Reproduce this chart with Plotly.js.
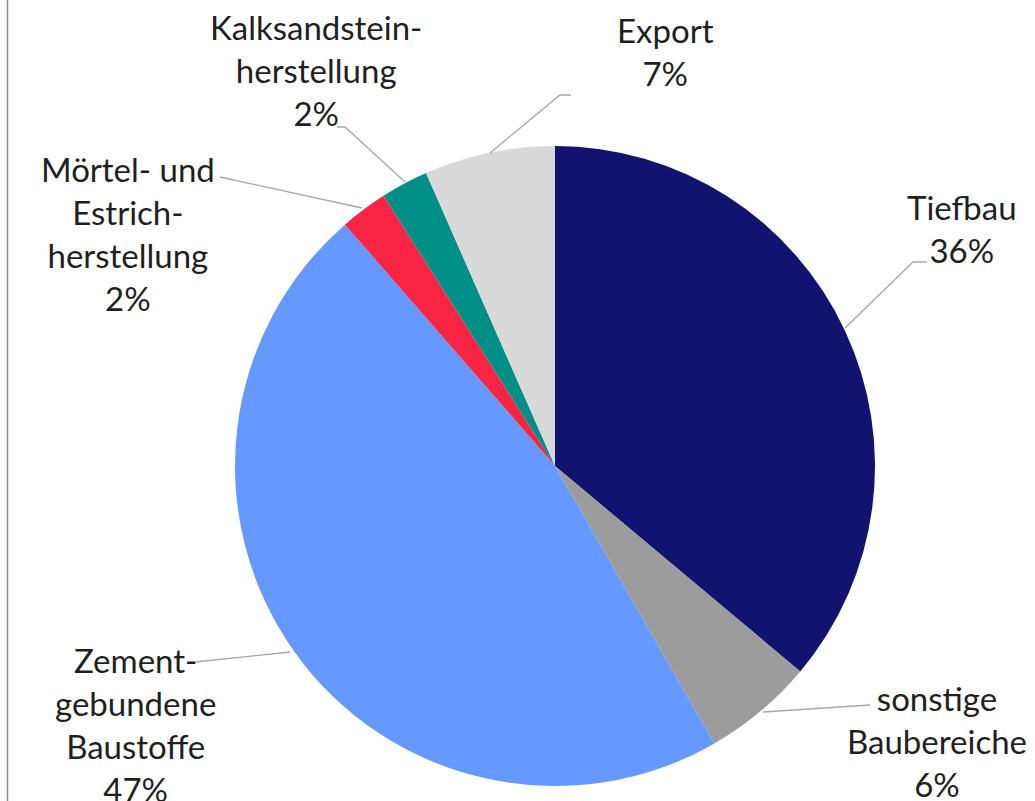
<!DOCTYPE html>
<html>
<head>
<meta charset="utf-8">
<script src="https://cdn.plot.ly/plotly-3.0.1.min.js"></script>
<style>
    html, body { margin: 0; padding: 0; background: #fff; }
    #chart { width: 1035px; height: 801px; }
</style>
</head>
<body>
<div id="chart"></div>
<script>
// Slices, clockwise from 12 o'clock
const labels = ["Tiefbau", "sonstige<br>Baubereiche", "Zement-<br>gebundene<br>Baustoffe",
                "Mörtel- und<br>Estrich-<br>herstellung", "Kalksandstein-<br>herstellung", "Export"];
const values = [36.1, 5.6, 46.9, 2.4, 2.4, 6.6];
const colors = ["#121270", "#9C9C9C", "#6699FF", "#FA2545", "#008F87", "#D9D9D9"];

// Label placement (pixel centre of text block) and leader lines (pixel polylines)
const label_pos = [[962, 228], [937, 741], [135, 724], [128, 233], [316, 70], [665, 51]];
const leaders = [
    [[845, 328], [913, 262], [927, 262]],
    [[763, 712], [870, 705]],
    [[290, 652], [195, 662]],
    [[362, 208], [220, 177]],
    [[405, 182], [345, 127], [337, 127]],
    [[490, 153], [560, 95], [571, 95]],
];

const W = 1035, H = 801;
let px = (x) => x / W;
let py = (y) => 1 - y / H;

let total = values.reduce((a, b) => a + b, 0);

let trace = {
    type: "pie",
    labels: labels,
    values: values,
    marker: { colors: colors, line: { width: 0 } },
    sort: false,
    direction: "clockwise",
    rotation: 0,
    textinfo: "none",
    hoverinfo: "label+percent",
    domain: { x: [px(235), px(875)], y: [py(786), py(146)] },
    showlegend: false,
};

let annotations = labels.map((name, i) => ({
    xref: "paper", yref: "paper",
    x: px(label_pos[i][0]), y: py(label_pos[i][1]),
    xanchor: "center", yanchor: "middle",
    align: "center",
    showarrow: false,
    text: name + "<br>" + Math.round(values[i] / total * 100) + "%",
    font: { family: "Lato, 'Open Sans', sans-serif", size: 33, color: "#1f1f1f" },
}));

let shapes = leaders.map(pts => ({
    type: "path",
    xref: "paper", yref: "paper",
    path: pts.map((p, k) => (k == 0 ? "M" : "L") + px(p[0]) + "," + py(p[1])).join(" "),
    line: { color: "#A6A6A6", width: 1.3 },
}));

// left frame edge of the chart area
shapes.push({
    type: "line", xref: "paper", yref: "paper",
    x0: px(7.5), x1: px(7.5), y0: 0, y1: 1,
    line: { color: "#8C8C8C", width: 1.5 },
});

let layout = {
    width: W, height: H,
    margin: { l: 0, r: 0, t: 0, b: 0 },
    paper_bgcolor: "#ffffff",
    annotations: annotations,
    shapes: shapes,
};

Plotly.newPlot("chart", [trace], layout, { displayModeBar: false, staticPlot: true });
</script>
</body>
</html>
